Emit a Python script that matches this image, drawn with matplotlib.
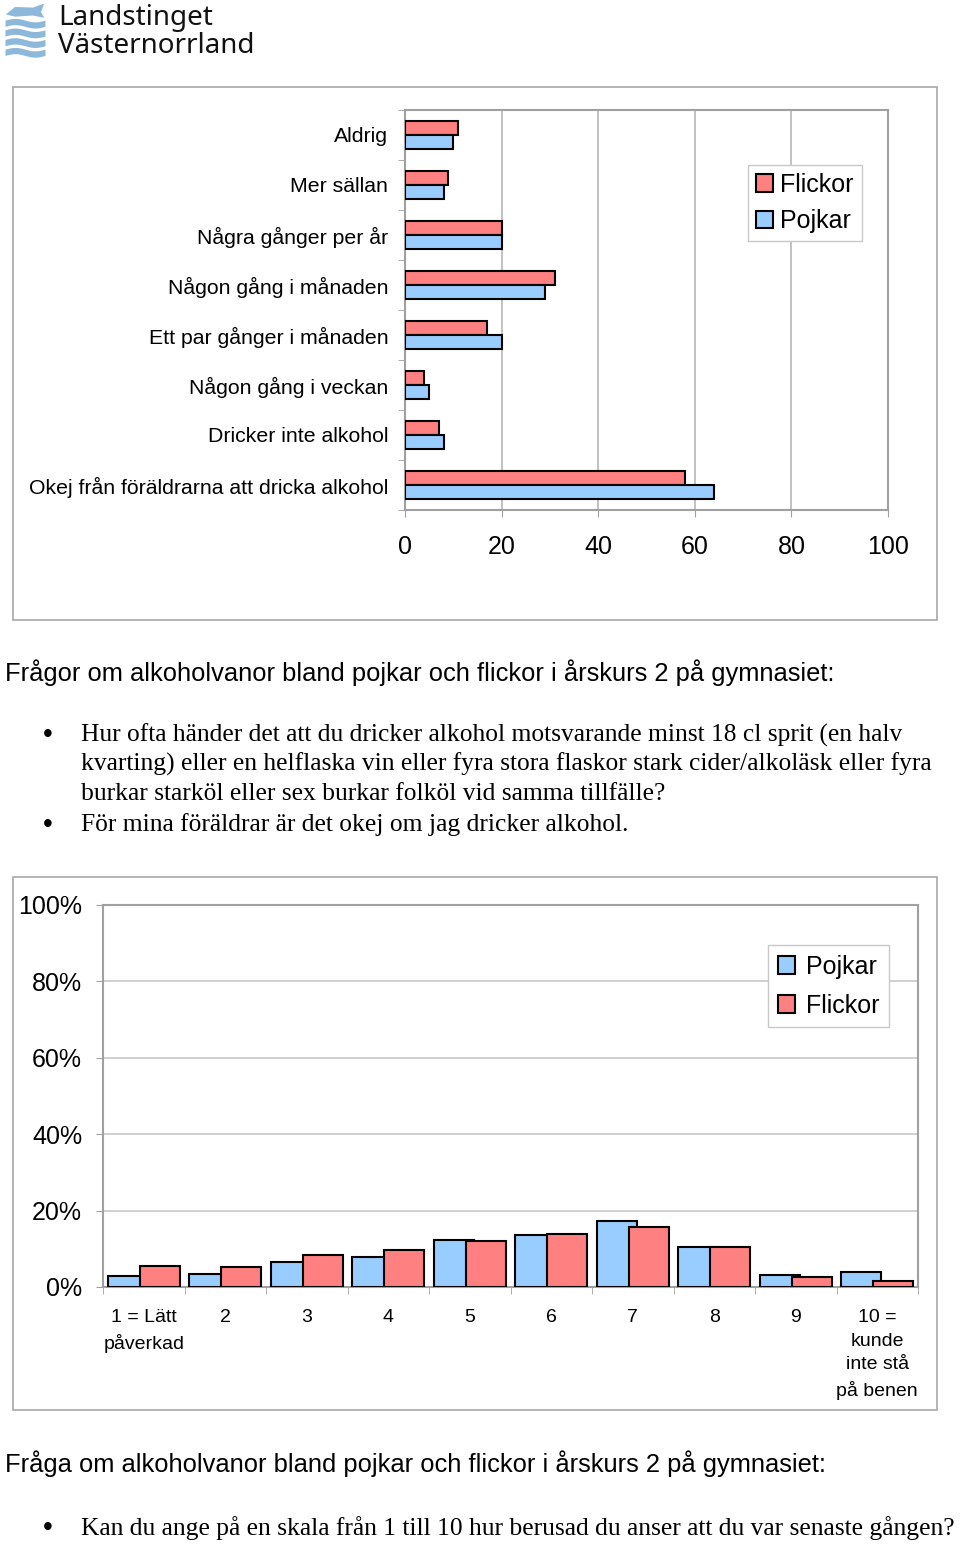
import numpy as np
import matplotlib
matplotlib.use("Agg")
import matplotlib.pyplot as plt
from matplotlib.patches import Rectangle, Polygon
from matplotlib.ticker import FixedLocator

# --- data ---
kategorier = ["Aldrig", "Mer sällan", "Några gånger per år", "Någon gång i månaden",
              "Ett par gånger i månaden", "Någon gång i veckan", "Dricker inte alkohol",
              "Okej från föräldrarna att dricka alkohol"]
flickor_top = [11, 9, 20, 31, 17, 4, 7, 58]
pojkar_top = [10, 8, 20, 29, 20, 5, 8, 64]

skala_labels = ["1 = Lätt\npåverkad", "2", "3", "4", "5", "6", "7", "8", "9",
                "10 =\nkunde\ninte stå\npå benen"]
pojkar_skala = [2.9, 3.3, 6.6, 7.9, 12.2, 13.7, 17.4, 10.5, 3.1, 3.9]
flickor_skala = [5.6, 5.2, 8.4, 9.7, 12.1, 14.0, 15.6, 10.5, 2.5, 1.5]

ROSA = "#FF8080"
BLA = "#99CCFF"
GRA = "#A0A0A0"
SANS = "Liberation Sans"
SERIF = "Liberation Serif"

W, H = 960, 1546
fig = plt.figure(figsize=(W / 100, H / 100), dpi=100)


def fx(px):
    return px / W


def fy(py):
    return 1 - py / H


def ram(x0, y0, x1, y1):
    fig.patches.append(Rectangle((fx(x0), fy(y1)), fx(x1 - x0), (y1 - y0) / H,
                                 transform=fig.transFigure, fill=False,
                                 edgecolor="#A8A8A8", lw=1.2))


# --- logo ---
logo = fig.add_axes([fx(5), fy(60), fx(40), 57 / H])
logo.set_xlim(0, 1)
logo.set_ylim(0, 1)
logo.axis("off")
xs = np.linspace(0, 1, 100)
for k in range(4):
    base = 0.08 + k * 0.17
    logo.fill_between(xs, base + 0.03 * np.sin(xs * 2 * np.pi),
                      base + 0.11 + 0.03 * np.sin(xs * 2 * np.pi), color="#8DB8DA", lw=0)
logo.add_patch(Polygon([[0.02, 0.8], [0.25, 0.93], [0.7, 0.92], [0.98, 0.99],
                        [0.9, 0.84], [0.98, 0.74], [0.7, 0.78], [0.25, 0.76]],
                       color="#8DB8DA", lw=0))
fig.text(fx(58), fy(18), "Landstinget", fontsize=20, family="Noto Sans",
         weight="medium", va="center", ha="left", color="#111111")
fig.text(fx(58), fy(46), "Västernorrland", fontsize=20, family="Noto Sans",
         weight="medium", va="center", ha="left", color="#111111")

# --- diagram 1 ---
ram(13, 87, 937, 620)
ax1 = fig.add_axes([fx(405), fy(510), fx(888 - 405), 400 / H])
y = np.arange(len(kategorier))
ax1.barh(y - 0.14, flickor_top, height=0.28, color=ROSA, edgecolor="black",
         lw=1.5, label="Flickor", zorder=3)
ax1.barh(y + 0.14, pojkar_top, height=0.28, color=BLA, edgecolor="black",
         lw=1.5, label="Pojkar", zorder=3)
ax1.set_xlim(0, 100)
ax1.set_ylim(len(kategorier) - 0.5, -0.5)
ax1.set_xticks([0, 20, 40, 60, 80, 100])
ax1.set_yticks(y)
ax1.set_yticklabels(kategorier, fontsize=15.3, family=SANS)
ax1.yaxis.set_minor_locator(FixedLocator(np.arange(-0.5, len(kategorier), 1)))
ax1.tick_params(axis="y", which="major", length=0, pad=12)
ax1.tick_params(axis="y", which="minor", length=5, color=GRA)
ax1.tick_params(axis="x", length=5, color=GRA, pad=13, labelsize=18)
for t in ax1.get_xticklabels():
    t.set_family(SANS)
ax1.grid(axis="x", color="#B8B8B8", lw=1.2, zorder=0)
for s in ax1.spines.values():
    s.set_color(GRA)
    s.set_linewidth(1.5)
ax1.legend(loc="upper left", bbox_to_anchor=(fx(748), fy(165)),
           bbox_transform=fig.transFigure, prop={"family": SANS, "size": 18},
           fancybox=False, edgecolor="#C8C8C8", framealpha=1,
           handlelength=0.7, handleheight=0.7, handletextpad=0.3,
           borderpad=0.3, labelspacing=0.5, borderaxespad=0)

fig.text(fx(5), fy(673), "Frågor om alkoholvanor bland pojkar och flickor i årskurs 2 på gymnasiet:",
         fontsize=18.4, family=SANS, va="center", ha="left")
rader = [(735, True, "Hur ofta händer det att du dricker alkohol motsvarande minst 18 cl sprit (en halv"),
         (764, False, "kvarting) eller en helflaska vin eller fyra stora flaskor stark cider/alkoläsk eller fyra"),
         (794, False, "burkar starköl eller sex burkar folköl vid samma tillfälle?"),
         (825, True, "För mina föräldrar är det okej om jag dricker alkohol.")]
for py, punkt, txt in rader:
    if punkt:
        fig.text(fx(48), fy(py), "•", fontsize=20, family=SANS, va="center", ha="center")
    fig.text(fx(81), fy(py), txt, fontsize=18.4, family=SERIF, va="center", ha="left")

# --- diagram 2 ---
ram(13, 877, 937, 1410)
ax2 = fig.add_axes([fx(103), fy(1287), fx(918 - 103), 382 / H])
x = np.arange(1, len(skala_labels) + 1)
ax2.bar(x - 0.195, pojkar_skala, width=0.49, color=BLA, edgecolor="black",
        lw=1.5, label="Pojkar", zorder=3)
ax2.bar(x + 0.195, flickor_skala, width=0.49, color=ROSA, edgecolor="black",
        lw=1.5, label="Flickor", zorder=3)
ax2.set_xlim(0.5, len(skala_labels) + 0.5)
ax2.set_ylim(0, 100)
ax2.set_yticks([0, 20, 40, 60, 80, 100])
ax2.set_yticklabels([f"{v}%" for v in [0, 20, 40, 60, 80, 100]], fontsize=18, family=SANS)
ax2.set_xticks(x)
ax2.set_xticklabels(skala_labels, fontsize=14, family=SANS, linespacing=1.5)
ax2.xaxis.set_minor_locator(FixedLocator(np.arange(0.5, len(skala_labels) + 1, 1)))
ax2.tick_params(axis="x", which="major", length=0, pad=16)
ax2.tick_params(axis="x", which="minor", length=5, color=GRA)
ax2.tick_params(axis="y", length=5, color=GRA, pad=10)
ax2.grid(axis="y", color="#C8C8C8", lw=1.2, zorder=0)
for s in ax2.spines.values():
    s.set_color(GRA)
    s.set_linewidth(1.5)
ax2.legend(loc="upper left", bbox_to_anchor=(fx(768), fy(945)),
           bbox_transform=fig.transFigure, prop={"family": SANS, "size": 18},
           fancybox=False, edgecolor="#C8C8C8", framealpha=1,
           handlelength=0.7, handleheight=0.7, handletextpad=0.45,
           borderpad=0.38, labelspacing=0.6, borderaxespad=0)

fig.text(fx(5), fy(1464), "Fråga om alkoholvanor bland pojkar och flickor i årskurs 2 på gymnasiet:",
         fontsize=18.4, family=SANS, va="center", ha="left")
fig.text(fx(48), fy(1528), "•", fontsize=20, family=SANS, va="center", ha="center")
fig.text(fx(81), fy(1528), "Kan du ange på en skala från 1 till 10 hur berusad du anser att du var senaste gången?",
         fontsize=18.4, family=SERIF, va="center", ha="left")

fig.savefig("out.png", dpi=100)
